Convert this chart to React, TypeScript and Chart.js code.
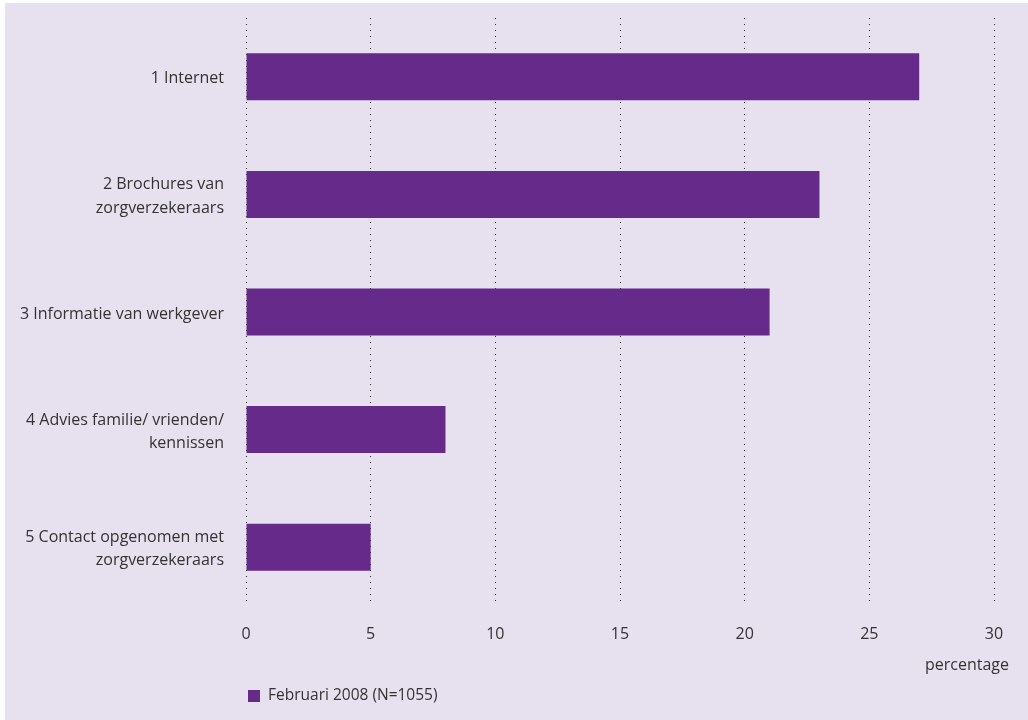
import React, { useEffect, useRef } from "react";
import { Chart, registerables } from "chart.js";

Chart.register(...registerables);

const categories: string[][] = [
  ["1 Internet"],
  ["2 Brochures van", "zorgverzekeraars"],
  ["3 Informatie van werkgever"],
  ["4 Advies familie/ vrienden/", "kennissen"],
  ["5 Contact opgenomen met", "zorgverzekeraars"],
];
const values: number[] = [27, 23, 21, 8, 5];
const seriesLabel = "Februari 2008 (N=1055)";
const axisTitle = "percentage";
const xMin = 0;
const xMax = 30;
const xStep = 5;

const BAR = "#652a8a";
const BG = "#e6e0ef";
const TEXT = "#333333";
const FONT = "'Open Sans', 'Noto Sans', sans-serif";

export default function App() {
  const ref = useRef<HTMLCanvasElement | null>(null);

  useEffect(() => {
    if (!ref.current) return;
    const extras = {
      id: "extras",
      afterDraw(chart: any) {
        const ctx = chart.ctx;
        const area = chart.chartArea;
        ctx.save();
        ctx.fillStyle = TEXT;
        ctx.font = `16px ${FONT}`;
        ctx.textAlign = "right";
        ctx.textBaseline = "middle";
        ctx.fillText(axisTitle, area.right + 15, area.bottom + 59);
        // legend
        ctx.fillStyle = BAR;
        ctx.fillRect(area.left + 2, area.bottom + 84, 12, 12);
        ctx.fillStyle = TEXT;
        ctx.font = `15.5px ${FONT}`;
        ctx.textAlign = "left";
        ctx.fillText(seriesLabel, area.left + 22, area.bottom + 90);
        ctx.restore();
      },
    };
    const chart = new Chart(ref.current, {
      type: "bar",
      data: {
        labels: categories,
        datasets: [
          {
            label: seriesLabel,
            data: values,
            backgroundColor: BAR,
            borderWidth: 0,
            barPercentage: 0.4,
            categoryPercentage: 1.0,
          },
        ],
      },
      options: {
        indexAxis: "y",
        animation: false,
        responsive: false,
        maintainAspectRatio: false,
        layout: { padding: { left: 0, right: 34, top: 15, bottom: 54 } },
        plugins: {
          legend: { display: false },
          tooltip: { enabled: false },
        },
        scales: {
          x: {
            min: xMin,
            max: xMax,
            ticks: {
              stepSize: xStep,
              color: TEXT,
              font: { family: FONT, size: 16 },
              padding: 19,
            },
            grid: {
              color: "#2b2b2b",
              lineWidth: 1,
              drawTicks: false,
            },
            border: { display: false, dash: [1, 5] },
            afterFit(scale: any) {
              scale.height = 60;
              scale.paddingLeft = 0;
              scale.paddingRight = 0;
            },
          },
          y: {
            ticks: {
              color: TEXT,
              font: { family: FONT, size: 16, lineHeight: 1.45 },
              padding: 14,
              labelOffset: 2,
            },
            grid: { display: false },
            border: { display: false },
            afterFit(scale: any) {
              scale.width = 241;
              scale.paddingTop = 0;
              scale.paddingBottom = 0;
            },
          },
        },
      },
      plugins: [extras],
    } as any);
    return () => chart.destroy();
  }, []);

  return (
    <div style={{ position: "fixed", left: 0, top: 0, width: 1028, height: 720, background: "#ffffff" }}>
      <div style={{ position: "absolute", left: 5, top: 3, width: 1023, height: 717, background: BG }}>
        <canvas ref={ref} width={1023} height={717} style={{ display: "block" }} />
      </div>
    </div>
  );
}
